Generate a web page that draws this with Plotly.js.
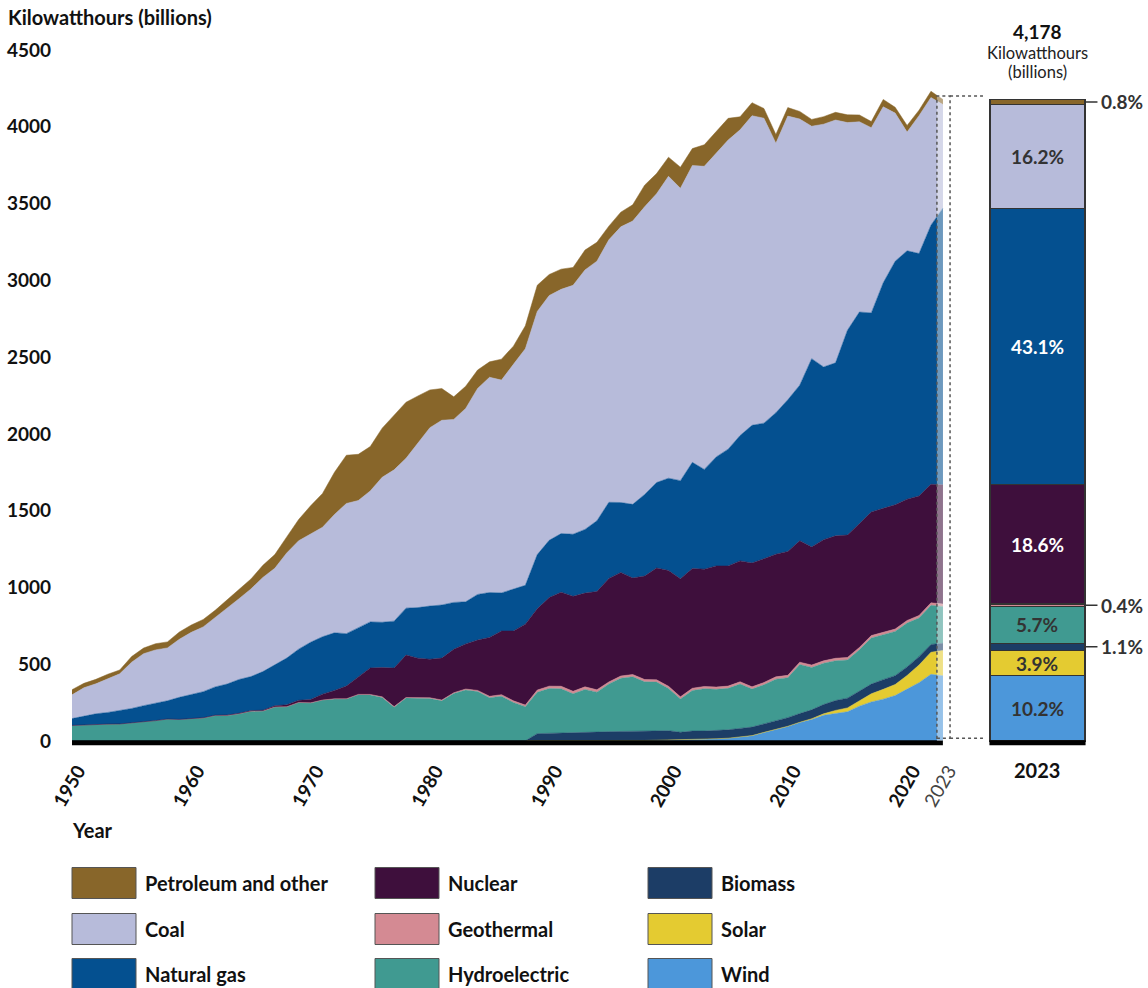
<!DOCTYPE html>
<html><head><meta charset="utf-8">
<script src="https://cdn.plot.ly/plotly-3.0.1.min.js"></script>
<style>html,body{margin:0;padding:0;background:#fff}#chart{width:1148px;height:988px}</style>
</head><body><div id="chart"></div>
<script>
// ---------- DATA (billion kWh) ----------
const years = [
1950,1951,1952,1953,1954,1955,1956,1957,1958,1959,
1960,1961,1962,1963,1964,1965,1966,1967,1968,1969,
1970,1971,1972,1973,1974,1975,1976,1977,1978,1979,
1980,1981,1982,1983,1984,1985,1986,1987,1988,1989,
1990,1991,1992,1993,1994,1995,1996,1997,1998,1999,
2000,2001,2002,2003,2004,2005,2006,2007,2008,2009,
2010,2011,2012,2013,2014,2015,2016,2017,2018,2019,
2020,2021,2022,2023];

const wind = [
0,0,0,0,0,0,0,0,0,0,
0,0,0,0,0,0,0,0,0,0,
0,0,0,0,0,0,0,0,0,0,
0,0,0,0.003,0.006,0.006,0.004,0.004,0.001,2.1,
2.8,3.0,2.9,3.0,3.4,3.2,3.2,3.3,3.0,4.5,
5.6,6.7,10.4,11.2,14.1,17.8,26.6,34.5,55.4,73.9,
94.7,120.2,140.8,167.8,181.7,190.7,227.0,254.3,272.7,295.9,
337.9,379.8,434.3,425.2];

const solar = [
0,0,0,0,0,0,0,0,0,0,
0,0,0,0,0,0,0,0,0,0,
0,0,0,0,0,0,0,0,0,0,
0,0,0,0,0.006,0.011,0.015,0.01,0.009,0.3,
0.37,0.47,0.46,0.46,0.48,0.50,0.52,0.51,0.50,0.50,
0.49,0.54,0.55,0.53,0.58,0.55,0.51,0.61,0.86,0.89,
1.2,1.8,4.3,9.0,17.7,24.9,36.1,53.3,63.8,72.2,
89.2,115.3,143.8,164.5];

const biomass = [
0.4,0.4,0.4,0.3,0.3,0.3,0.3,0.2,0.2,0.2,
0.1,0.1,0.1,0.1,0.1,0.1,0.1,0.1,0.1,0.1,
0.1,0.1,0.1,0.1,0.1,0.1,0.1,0.1,0.1,0.1,
0.4,0.4,0.4,0.5,0.6,0.7,0.8,0.8,0.9,45.5,
45.8,48.0,51.0,52.0,54.0,57.0,58.0,58.0,59.0,59.0,
60.7,49.7,53.7,53.3,53.6,54.3,54.9,55.5,55.0,54.5,
56.1,56.7,57.6,60.9,64.0,63.6,62.8,62.8,63.0,57.5,
55.6,54.3,50.9,46.6];

const hydro = [
100.9,104.4,109.7,109.6,110.8,116.2,125.5,132.6,142.8,140.3,
145.8,150.0,165.5,165.8,177.0,193.9,194.8,221.5,222.5,250.2,
247.7,266.3,273.0,272.7,301.0,300.0,283.7,220.5,280.4,280.0,
276.0,261.0,309.2,332.1,321.2,281.1,290.8,249.7,222.9,269.2,
292.9,289.0,253.1,280.5,260.1,310.8,347.2,356.5,323.3,319.5,
275.6,217.0,264.3,275.8,268.4,270.3,289.2,247.5,254.8,273.4,
260.2,319.4,276.2,268.6,259.4,249.1,267.8,300.3,292.5,287.9,
285.3,251.6,254.8,240.0];

const geothermal = [
0,0,0,0,0,0,0,0,0,0,
0.03,0.1,0.1,0.17,0.2,0.19,0.19,0.3,0.4,0.7,
0.5,0.5,1.45,1.95,2.45,3.25,3.6,3.6,3.0,3.9,
5.1,5.7,4.8,6.1,7.7,9.3,10.3,10.8,10.3,14.6,
15.4,16.0,16.1,16.8,15.5,13.4,14.3,14.7,14.8,14.8,
14.1,13.7,14.5,14.4,14.8,14.7,14.6,14.6,14.8,15.0,
15.2,15.3,15.6,15.8,15.9,15.9,15.8,15.9,16.0,15.5,
17.0,16.2,16.1,16.3];

const nuclear = [
0,0,0,0,0,0,0,0.01,0.2,0.19,
0.52,1.69,2.27,3.21,3.34,3.66,5.52,7.66,12.53,13.93,
21.8,38.1,54.1,83.5,114.0,172.5,191.1,250.9,276.4,255.2,
251.1,272.7,282.8,293.7,327.6,383.7,414.0,455.3,527.0,529.4,
576.9,612.6,618.8,610.3,640.4,673.4,674.7,628.6,673.7,728.3,
753.9,768.8,780.1,763.7,788.5,782.0,787.2,806.4,806.2,798.9,
807.0,790.2,769.3,789.0,797.2,797.2,805.7,805.0,807.1,809.4,
789.9,778.2,772.2,775.4];

const naturalGas = [
44.6,56.7,66.9,76.0,87.4,95.3,104.3,114.1,118.7,143.7,
158.0,169.3,184.3,201.6,220.0,221.6,251.2,264.8,304.4,333.3,
372.9,374.0,375.7,340.9,320.1,299.8,294.6,305.5,305.4,329.5,
346.2,345.8,305.3,274.1,297.4,291.9,248.5,272.6,252.8,352.8,
372.8,381.6,404.1,414.9,460.2,496.1,455.1,479.4,531.3,556.4,
601.0,639.1,691.0,649.9,710.1,761.0,816.4,896.6,883.0,921.0,
987.7,1013.7,1225.9,1124.8,1126.6,1333.5,1378.3,1296.4,1469.1,1585.8,
1617.5,1579.2,1687.1,1802.1];

const coal = [
154.5,185.2,195.4,218.8,239.1,301.4,338.5,346.4,344.4,378.4,
403.1,421.9,450.2,493.9,526.2,570.9,613.5,630.5,684.9,706.0,
704.4,713.1,771.1,847.7,828.4,852.8,944.4,985.2,975.7,1075.0,
1161.6,1203.2,1192.0,1259.4,1341.7,1402.1,1385.8,1463.8,1540.7,1583.5,
1594.0,1590.6,1621.2,1690.1,1690.7,1709.4,1795.2,1845.0,1873.5,1881.1,
1966.3,1904.0,1933.1,1973.7,1978.3,2012.9,1990.5,2016.5,1985.8,1755.9,
1847.3,1733.4,1514.0,1581.1,1581.7,1352.4,1239.1,1205.8,1146.0,965.0,
773.4,897.9,831.5,675.3];

const petroleumOther = [
33.7,29.0,29.1,30.1,24.9,37.1,36.7,40.3,39.2,46.9,
48.0,48.4,48.6,52.2,57.6,64.8,78.9,89.3,104.3,138.3,
184.2,220.2,274.3,314.3,300.9,289.1,320.0,358.2,365.1,303.5,
246.0,206.4,146.8,144.5,119.8,100.2,136.6,118.5,148.9,170.6,
137.0,131.7,116.3,128.9,123.2,89.2,95.8,106.0,140.9,130.9,
124.3,137.5,110.3,140.5,142.6,141.4,85.1,84.8,63.1,56.5,
55.6,49.3,44.3,49.0,49.8,50.7,44.4,40.2,47.8,37.8,
43.2,35.5,40.3,32.6];

// stacking order: bottom -> top
const seriesNames  = ["Wind","Solar","Biomass","Hydroelectric","Geothermal","Nuclear","Natural gas","Coal","Petroleum and other"];
const seriesValues = [wind, solar, biomass, hydro, geothermal, nuclear, naturalGas, coal, petroleumOther];
const seriesColors = ["#4C97DA","#E4CB31","#1C3D66","#409A91","#D48A93","#3E0F3C","#045090","#B7BBDA","#88662A"];
const labelColors  = ["#333","#333","#fff","#333","#333","#fff","#fff","#333","#333"];

const decadeTicks = [1950,1960,1970,1980,1990,2000,2010,2020];
const yTicks = [0,500,1000,1500,2000,2500,3000,3500,4000,4500];
const legendOrder = [
  ["Petroleum and other","Coal","Natural gas"],
  ["Nuclear","Geothermal","Hydroelectric"],
  ["Biomass","Solar","Wind"]];

// ---------- LAYOUT GEOMETRY ----------
const W = 1148, H = 988;
const FONT = "Lato, 'Open Sans', sans-serif";
const X_LEFT = 72, X_RIGHT = 1100, PX_YEAR = 11.93;
const Y_ZERO = 741, Y_TOP = 50, PX_VAL = (Y_ZERO - Y_TOP) / 4500, Y_MIN = -40;
const lastYear = years[years.length - 1];
const BAR_X = 2030.93, BAR_W = 7.96;
const BOX_R = 2023.6, CONN_R = 2026.36, BOX_TOP = 4200, BOX_BOT = 18, BASE_Y = -12;
const py = p => 1 - p / H;

const traces = [];
seriesNames.forEach((name, i) => {
  traces.push({
    type: 'scatter', mode: 'lines', x: years, y: seriesValues[i], name: name,
    stackgroup: 'area', fillcolor: seriesColors[i],
    line: {color: seriesColors[i], width: 0.5, shape: 'linear'},
    hoverinfo: 'skip', showlegend: false
  });
});
const last = seriesValues.map(v => v[v.length - 1]);
const total = last.reduce((a, b) => a + b, 0);
seriesNames.forEach((name, i) => {
  traces.push({
    type: 'bar', x: [BAR_X], y: [last[i]], width: [BAR_W], name: name,
    marker: {color: seriesColors[i], line: {color: '#333', width: 1.2}},
    hoverinfo: 'skip', showlegend: false
  });
});

const annotations = [];
const shapes = [];
const txt = (x, xref, y, text, size, color, bold, xanchor) => ({
  x: x, xref: xref, y: y, yref: 'paper', xanchor: xanchor || 'center', yanchor: 'middle',
  showarrow: false, text: text,
  font: {family: FONT, size: size, color: color, weight: bold ? 'bold' : 'normal'}
});
// bar labels
let cum = 0;
last.forEach((v, i) => {
  const mid = cum + v / 2; cum += v;
  const pct = (v / total * 100).toFixed(1) + '%';
  if (v / total >= 0.02) {
    annotations.push({x: BAR_X, y: mid, xref: 'x', yref: 'y', text: pct, showarrow: false,
      xanchor: 'center', yanchor: 'middle',
      font: {family: FONT, size: 19, color: labelColors[i], weight: 'bold'}});
  } else {
    annotations.push({x: BAR_X + BAR_W / 2, y: mid, xref: 'x', yref: 'y', text: pct, showarrow: true,
      ax: 37, ay: 0, arrowhead: 0, arrowwidth: 1.5, arrowcolor: '#333', standoff: 0, startstandoff: 2,
      font: {family: FONT, size: 19, color: '#333', weight: 'bold'}});
  }
});
// total above bar
annotations.push(txt(BAR_X, 'x', py(32), Math.round(total).toLocaleString('en-US'), 19, '#111', true));
annotations.push(txt(BAR_X, 'x', py(53), 'Kilowatthours', 16.5, '#222', false));
annotations.push(txt(BAR_X, 'x', py(72), '(billions)', 16.5, '#222', false));
annotations.push(txt(BAR_X, 'x', py(770), String(lastYear), 20, '#111', true));
// titles
annotations.push(txt(6 / W, 'paper', py(17), 'Kilowatthours (billions)', 20, '#111', true, 'left'));
annotations.push(txt(70 / W, 'paper', py(830), 'Year', 20, '#111', true, 'left'));

// legend
const colX = [72, 375, 648], rowY = [883, 929, 974];
legendOrder.forEach((col, c) => col.forEach((name, r) => {
  const i = seriesNames.indexOf(name);
  shapes.push({type: 'rect', xref: 'paper', yref: 'paper',
    x0: colX[c] / W, x1: (colX[c] + 64) / W, y0: py(rowY[r] + 15.5), y1: py(rowY[r] - 15.5),
    fillcolor: seriesColors[i], line: {color: '#555', width: 1}});
  annotations.push(txt((colX[c] + 71) / W, 'paper', py(rowY[r]), name, 20, '#111', true, 'left'));
}));

// baselines
shapes.push({type: 'line', xref: 'x', yref: 'y', x0: years[0], x1: lastYear, y0: BASE_Y, y1: BASE_Y,
  line: {color: '#000', width: 5}, layer: 'above'});
shapes.push({type: 'line', xref: 'x', yref: 'y', x0: BAR_X - BAR_W / 2 - 0.05, x1: BAR_X + BAR_W / 2 + 0.05, y0: BASE_Y, y1: BASE_Y,
  line: {color: '#000', width: 5}, layer: 'above'});
// highlight of latest year
shapes.push({type: 'rect', xref: 'x', yref: 'y', x0: lastYear - 0.5, x1: lastYear, y0: 0, y1: 4240,
  fillcolor: 'rgba(255,255,255,0.42)', line: {width: 0}, layer: 'above'});
shapes.push({type: 'rect', xref: 'x', yref: 'y', x0: lastYear - 0.5, x1: BOX_R, y0: BOX_BOT, y1: BOX_TOP,
  line: {color: '#555', width: 1.5, dash: 'dot'}, layer: 'above'});
shapes.push({type: 'line', xref: 'x', yref: 'y', x0: BOX_R, x1: CONN_R, y0: BOX_TOP, y1: BOX_TOP,
  line: {color: '#555', width: 1.5, dash: 'dot'}, layer: 'above'});
shapes.push({type: 'line', xref: 'x', yref: 'y', x0: BOX_R, x1: CONN_R, y0: BOX_BOT, y1: BOX_BOT,
  line: {color: '#555', width: 1.5, dash: 'dot'}, layer: 'above'});

const layout = {
  width: W, height: H, margin: {l: 0, r: 0, t: 0, b: 0},
  paper_bgcolor: '#fff', plot_bgcolor: 'rgba(0,0,0,0)',
  barmode: 'stack', showlegend: false, hovermode: false,
  xaxis: {
    domain: [X_LEFT / W, X_RIGHT / W],
    range: [years[0], years[0] + (X_RIGHT - X_LEFT) / PX_YEAR],
    tickmode: 'array', tickvals: decadeTicks.concat([lastYear]),
    ticktext: decadeTicks.map(t => '<b>' + t + '</b>').concat(['<span style="color:#444">' + lastYear + '</span>']),
    tickangle: -60, ticks: '', showline: false, showgrid: false, zeroline: false,
    tickfont: {family: FONT, size: 19, color: '#111'}, ticklabelstandoff: 8, ticklabelshift: 6
  },
  yaxis: {
    domain: [py(Y_ZERO - Y_MIN * PX_VAL), py(Y_TOP)],
    range: [Y_MIN, 4500], tickmode: 'array', tickvals: yTicks,
    ticks: '', showline: false, showgrid: false, zeroline: false,
    tickfont: {family: FONT, size: 19, color: '#111', weight: 'bold'}, ticklabelstandoff: 20
  },
  shapes: shapes, annotations: annotations
};

Plotly.newPlot('chart', traces, layout, {staticPlot: true, displayModeBar: false});
</script>
</body></html>
